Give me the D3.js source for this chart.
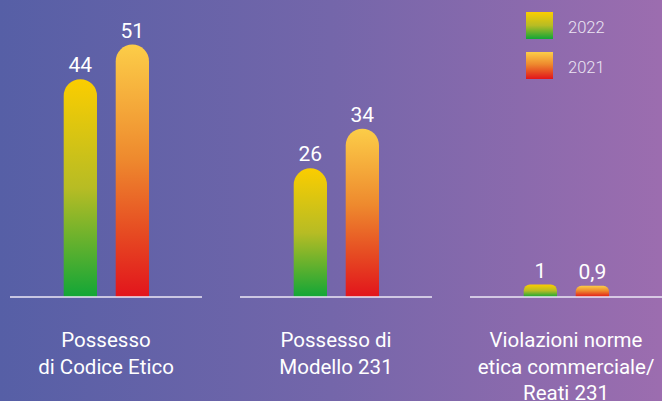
<!DOCTYPE html>
<html>
<head>
<meta charset="utf-8">
<script src="https://cdn.jsdelivr.net/npm/d3@7"></script>
<style>
  html, body { margin: 0; padding: 0; }
  body { width: 662px; height: 401px; overflow: hidden; }
  text { font-family: Roboto, "Noto Sans", sans-serif; }
</style>
</head>
<body>
<svg id="chart" width="662" height="401"></svg>
<script>
// ---- data ----
const categories = [
  ["Possesso", "di Codice Etico"],
  ["Possesso di", "Modello 231"],
  ["Violazioni norme", "etica commerciale/", "Reati 231"]
];
const seriesNames = ["2022", "2021"];
const values2022 = [44, 26, 1];
const values2021 = [51, 34, 0.9];
const valueLabels2022 = ["44", "26", "1"];
const valueLabels2021 = ["51", "34", "0,9"];

// ---- setup ----
const W = 662, H = 401;
const svg = d3.select("#chart");
const defs = svg.append("defs");

const bg = defs.append("linearGradient").attr("id", "bg")
  .attr("x1", 0).attr("y1", 0).attr("x2", 1).attr("y2", 0);
bg.append("stop").attr("offset", 0).attr("stop-color", "#565fa6");
bg.append("stop").attr("offset", 0.5).attr("stop-color", "#7466aa");
bg.append("stop").attr("offset", 1).attr("stop-color", "#9c6daf");
svg.append("rect").attr("width", W).attr("height", H).attr("fill", "url(#bg)");

const gradStops = {
  "2022": [[0, "#fbcd00"], [0.5, "#b7bc24"], [1, "#12a637"]],
  "2021": [[0, "#fccd48"], [0.45, "#ee8a2e"], [0.75, "#e64a22"], [1, "#e2141c"]]
};
seriesNames.forEach(s => {
  const g = defs.append("linearGradient").attr("id", "g" + s)
    .attr("x1", 0).attr("y1", 0).attr("x2", 0).attr("y2", 1);
  gradStops[s].forEach(([o, c]) => g.append("stop").attr("offset", o).attr("stop-color", c));
});

const baseY = 297;
const x0 = d3.scaleBand().domain(d3.range(categories.length))
  .range([10, 662]).paddingInner(38 / 230).paddingOuter(0);
const bw = x0.bandwidth();
const x1 = d3.scaleBand().domain(seriesNames)
  .range([bw * 53.7 / 192, bw * 139 / 192]).paddingInner(0.36);
const y = d3.scaleLinear().domain([0, 60]).range([baseY, 0]);
// tiny values get a visible minimum height, proportional to the value
const minPxPerUnit = 12.5, minCap = 13;

const rows = categories.map((c, i) => ({
  i,
  bars: [
    { s: "2022", v: values2022[i], label: valueLabels2022[i] },
    { s: "2021", v: values2021[i], label: valueLabels2021[i] }
  ]
}));

function barPath(x, w, h) {
  const r = Math.min(w / 2, h / 2);
  const top = baseY - h;
  return `M${x},${baseY} L${x},${top + r} A${r},${r} 0 0 1 ${x + r},${top}` +
    ` L${x + w - r},${top} A${r},${r} 0 0 1 ${x + w},${top + r} L${x + w},${baseY} Z`;
}

const groups = svg.selectAll("g.grp").data(rows).join("g")
  .attr("class", "grp")
  .attr("transform", d => `translate(${x0(d.i)},0)`);

const barH = d => Math.max(y(0) - y(d.v), Math.min(minPxPerUnit * d.v, minCap));

groups.selectAll("path.bar").data(d => d.bars).join("path")
  .attr("class", "bar")
  .attr("d", d => barPath(x1(d.s), x1.bandwidth(), barH(d)))
  .attr("fill", d => `url(#g${d.s})`);

groups.selectAll("text.val").data(d => d.bars).join("text")
  .attr("class", "val")
  .attr("x", d => x1(d.s) + x1.bandwidth() / 2)
  .attr("y", d => baseY - barH(d) - 7)
  .attr("text-anchor", "middle")
  .attr("fill", "#ffffff")
  .attr("font-size", 21)
  .text(d => d.label);

groups.append("line")
  .attr("x1", 0).attr("x2", bw)
  .attr("y1", baseY).attr("y2", baseY)
  .attr("stroke", "#ece8f6").attr("stroke-width", 1.5);

groups.each(function(d) {
  const t = d3.select(this).append("text")
    .attr("text-anchor", "middle")
    .attr("fill", "#ffffff")
    .attr("font-size", 20.5);
  categories[d.i].forEach((line, k) => {
    t.append("tspan").attr("x", bw / 2).attr("y", 346.7 + k * 26.8).text(line);
  });
});

// legend
const legend = svg.append("g").attr("transform", "translate(526,12)");
const li = legend.selectAll("g").data(seriesNames).join("g")
  .attr("transform", (d, i) => `translate(0,${i * 40})`);
li.append("rect").attr("width", 27).attr("height", 27).attr("fill", d => `url(#g${d})`);
li.append("text").attr("x", 42).attr("y", 20.5)
  .attr("fill", "#ebe5f3").attr("font-size", 16.5).attr("font-weight", 300)
  .text(d => d);
</script>
</body>
</html>
